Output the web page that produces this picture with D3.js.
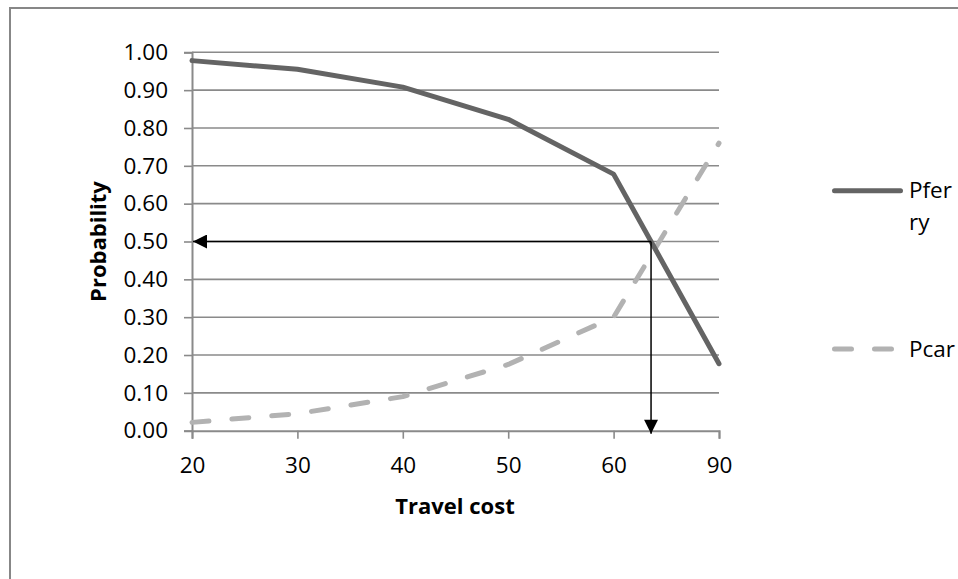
<!DOCTYPE html>
<html>
<head>
<meta charset="utf-8">
<script src="https://cdn.jsdelivr.net/npm/d3@7"></script>
<style>
  html, body { margin: 0; padding: 0; background: #fff; }
  svg { display: block; }
  text { font-family: "Open Sans", "Noto Sans", sans-serif; fill: #000; }
</style>
</head>
<body>
<svg id="chart" width="958" height="579"></svg>
<script>
// ---- data ----
const categories = ["20", "30", "40", "50", "60", "90"];
const pferry = [0.978, 0.955, 0.908, 0.823, 0.678, 0.177];
const pcar = [0.022, 0.045, 0.090, 0.175, 0.300, 0.760];
const yTicks = [0, 0.1, 0.2, 0.3, 0.4, 0.5, 0.6, 0.7, 0.8, 0.9, 1.0];
const seriesNames = ["Pferry", "Pcar"];
const targetProb = 0.5;

// ---- layout ----
const svg = d3.select("#chart");
const W = 958, H = 579;
const plot = { left: 192, right: 719, top: 52.3, bottom: 430.7 };

// outer chart border (extends past right/bottom of window)
svg.append("rect")
  .attr("x", 10).attr("y", 8)
  .attr("width", W + 20).attr("height", H + 20)
  .attr("fill", "#fff").attr("stroke", "#878787").attr("stroke-width", 2);

const x = d3.scalePoint().domain(categories).range([plot.left, plot.right]);
const y = d3.scaleLinear().domain([0, 1]).range([plot.bottom, plot.top]);

const gridColor = "#8a8a8a";
const tickFont = "22.5px";

// gridlines
svg.append("g").selectAll("line").data(yTicks.filter(d => d > 0)).join("line")
  .attr("x1", plot.left).attr("x2", plot.right)
  .attr("y1", d => y(d)).attr("y2", d => y(d))
  .attr("stroke", gridColor).attr("stroke-width", 1.6);

// y axis
const yAxis = svg.append("g").attr("transform", `translate(${plot.left},0)`)
  .call(d3.axisLeft(y).tickValues(yTicks).tickFormat(d3.format(".2f")).tickSize(8).tickPadding(16));
yAxis.select(".domain").attr("stroke", gridColor).attr("stroke-width", 2);
yAxis.selectAll(".tick line").attr("stroke", gridColor).attr("stroke-width", 1.6);
yAxis.selectAll(".tick text")
  .style("font-family", '"Open Sans", sans-serif').style("font-size", tickFont).attr("fill", "#000");

// x axis
const xAxis = svg.append("g").attr("transform", `translate(0,${plot.bottom})`)
  .call(d3.axisBottom(x).tickSize(8).tickPadding(18));
xAxis.select(".domain").attr("stroke", gridColor).attr("stroke-width", 2);
xAxis.selectAll(".tick line").attr("stroke", gridColor).attr("stroke-width", 1.6);
xAxis.selectAll(".tick text")
  .style("font-family", '"Open Sans", sans-serif').style("font-size", tickFont).attr("fill", "#000");

// axis titles
svg.append("text")
  .attr("transform", `translate(106,${(plot.top + plot.bottom) / 2}) rotate(-90)`)
  .attr("text-anchor", "middle")
  .style("font-size", "22px").style("font-weight", "bold")
  .text("Probability");
svg.append("text")
  .attr("x", 455).attr("y", 514)
  .attr("text-anchor", "middle")
  .style("font-size", "22px").style("font-weight", "bold")
  .text("Travel cost");

// lines
const line = d3.line().x((d, i) => x(categories[i])).y(d => y(d));
const styles = {
  Pferry: { color: "#646464", dash: null },
  Pcar: { color: "#b2b2b2", dash: "17,23" }
};
const seriesData = { Pferry: pferry, Pcar: pcar };

seriesNames.slice().reverse().forEach(name => {
  svg.append("path")
    .datum(seriesData[name])
    .attr("d", line)
    .attr("fill", "none")
    .attr("stroke", styles[name].color)
    .attr("stroke-width", 5)
    .attr("stroke-linejoin", "round")
    .attr("stroke-linecap", "round")
    .attr("stroke-dasharray", styles[name].dash);
});

// intersection of Pferry with target probability (computed from data)
let crossX = null;
for (let i = 0; i < pferry.length - 1; i++) {
  const a = pferry[i], b = pferry[i + 1];
  if ((a - targetProb) * (b - targetProb) <= 0) {
    const t = (a - targetProb) / (a - b);
    crossX = x(categories[i]) + t * (x(categories[i + 1]) - x(categories[i]));
    break;
  }
}

// arrows
const defs = svg.append("defs");
defs.append("marker")
  .attr("id", "arrow").attr("viewBox", "0 0 10 10")
  .attr("refX", 10).attr("refY", 5)
  .attr("markerUnits", "userSpaceOnUse")
  .attr("markerWidth", 15).attr("markerHeight", 14)
  .attr("orient", "auto")
  .append("path").attr("d", "M0,0 L10,5 L0,10 Z").attr("fill", "#000");

const cy = y(targetProb);
svg.append("line")
  .attr("x1", crossX).attr("y1", cy).attr("x2", plot.left + 1).attr("y2", cy)
  .attr("stroke", "#000").attr("stroke-width", 1.5)
  .attr("marker-end", "url(#arrow)");
svg.append("line")
  .attr("x1", crossX).attr("y1", cy).attr("x2", crossX).attr("y2", y(0) + 3)
  .attr("stroke", "#000").attr("stroke-width", 1.5)
  .attr("marker-end", "url(#arrow)");

// legend
const legX1 = 832, legX2 = 903, textX = 909;
const legY = { Pferry: 190.7, Pcar: 349 };
seriesNames.forEach(name => {
  svg.append("line")
    .attr("x1", legX1 + 2.5).attr("x2", legX2 - 2.5)
    .attr("y1", legY[name]).attr("y2", legY[name])
    .attr("stroke", styles[name].color).attr("stroke-width", 5)
    .attr("stroke-linecap", "round")
    .attr("stroke-dasharray", styles[name].dash);
});
const t1 = svg.append("text").attr("x", textX).attr("y", 198).style("font-size", "22.5px");
t1.append("tspan").attr("x", textX).text(seriesNames[0].slice(0, 4));
t1.append("tspan").attr("x", textX).attr("dy", 32).text(seriesNames[0].slice(4));
svg.append("text").attr("x", textX).attr("y", 357).style("font-size", "22.5px").text(seriesNames[1]);
</script>
</body>
</html>
